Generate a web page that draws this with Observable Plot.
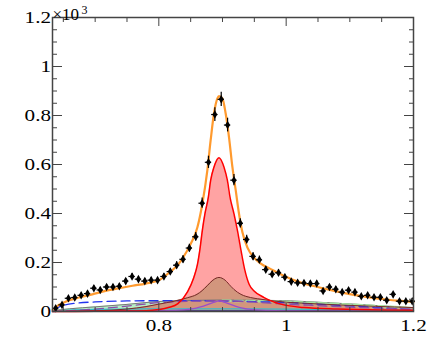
<!DOCTYPE html>
<html><head><meta charset="utf-8">
<script src="https://cdn.jsdelivr.net/npm/d3@7"></script>
<script src="https://cdn.jsdelivr.net/npm/@observablehq/plot@0.6"></script>
<style>html,body{margin:0;padding:0;background:#fff;}</style>
</head><body><div id="chart"></div>
<script>
// ---- data (y values in units of 10^3) ----
const binX = [0.638,0.648,0.658,0.668,0.678,0.688,0.698,0.708,0.718,0.728,0.738,0.748,0.758,0.768,0.778,0.788,0.798,0.808,0.818,0.828,0.838,0.848,0.858,0.868,0.878,0.888,0.898,0.908,0.918,0.928,0.938,0.948,0.958,0.968,0.978,0.988,0.998,1.008,1.018,1.028,1.038,1.048,1.058,1.068,1.078,1.088,1.098,1.108,1.118,1.128,1.138,1.148,1.158,1.168,1.178,1.188,1.198];
const counts = [0.013,0.027,0.054,0.057,0.066,0.073,0.095,0.088,0.100,0.100,0.103,0.124,0.143,0.132,0.124,0.128,0.128,0.143,0.163,0.189,0.213,0.259,0.305,0.442,0.609,0.804,0.866,0.761,0.536,0.360,0.294,0.225,0.211,0.171,0.152,0.158,0.140,0.122,0.117,0.116,0.114,0.114,0.084,0.100,0.091,0.079,0.087,0.079,0.062,0.066,0.058,0.058,0.046,0.070,0.042,0.042,0.042];
const errors = [0.004,0.005,0.007,0.008,0.008,0.009,0.010,0.009,0.010,0.010,0.010,0.011,0.012,0.011,0.011,0.011,0.011,0.012,0.013,0.014,0.015,0.016,0.017,0.021,0.025,0.028,0.029,0.028,0.023,0.019,0.017,0.015,0.015,0.013,0.012,0.013,0.012,0.011,0.011,0.011,0.011,0.011,0.009,0.010,0.010,0.009,0.009,0.009,0.008,0.008,0.008,0.008,0.007,0.008,0.006,0.006,0.006];
const binHalf = 0.005;

const totalX = [0.633,0.643,0.6535,0.6746,0.6956,0.7165,0.7376,0.7586,0.7795,0.8006,0.8164,0.8321,0.8342,0.8499,0.8605,0.8683,0.8762,0.8814,0.8866,0.892,0.8945,0.8998,0.905,0.9102,0.9156,0.9208,0.926,0.9313,0.9392,0.9496,0.9602,0.9759,0.9969,1.0232,1.0494,1.0756,1.1019,1.1282,1.1543,1.1806,1.2];
const totalY = [0.006,0.027,0.040,0.057,0.070,0.084,0.095,0.105,0.114,0.128,0.159,0.197,0.205,0.275,0.343,0.439,0.576,0.699,0.808,0.870,0.879,0.870,0.808,0.712,0.589,0.494,0.398,0.323,0.261,0.220,0.195,0.173,0.145,0.118,0.100,0.084,0.070,0.059,0.050,0.043,0.039];

const kstX = [0.633,0.70,0.75,0.78,0.80,0.815,0.83,0.845,0.855,0.8605,0.8646,0.8683,0.8724,0.8778,0.8814,0.8866,0.8945,0.9024,0.9077,0.9118,0.9181,0.9235,0.9287,0.935,0.942,0.9496,0.9654,0.9917,1.028,1.08,1.15,1.2];
const kstY = [0.0,0.001,0.002,0.003,0.008,0.016,0.032,0.080,0.139,0.190,0.255,0.330,0.398,0.467,0.535,0.589,0.628,0.589,0.535,0.467,0.398,0.330,0.255,0.170,0.110,0.084,0.057,0.030,0.016,0.010,0.006,0.005];

const brownX = [0.633,0.70,0.75,0.78,0.80,0.824,0.845,0.860,0.868,0.876,0.885,0.8945,0.904,0.913,0.918,0.929,0.944,0.955,0.971,1.0,1.034,1.08,1.14,1.2];
const brownY = [0.0,0.003,0.010,0.020,0.030,0.042,0.056,0.070,0.085,0.105,0.128,0.139,0.128,0.103,0.090,0.070,0.057,0.052,0.046,0.038,0.033,0.027,0.021,0.016];

const greenX = [0.633,0.645,0.66,0.70,0.75,0.80,0.85,0.90,0.95,1.0,1.05,1.10,1.15,1.2];
const greenY = [0.003,0.007,0.011,0.019,0.029,0.041,0.045,0.047,0.046,0.044,0.038,0.031,0.023,0.015];

const blueX = [0.633,0.64,0.65,0.67,0.70,0.75,0.80,0.85,0.90,0.95,1.0,1.05,1.10,1.15,1.2];
const blueY = [0.004,0.015,0.025,0.034,0.039,0.043,0.044,0.044,0.043,0.040,0.037,0.030,0.023,0.015,0.008];

const lgreenX = [0.90,0.95,1.0,1.05,1.10,1.15,1.2];
const lgreenY = [0.044,0.042,0.039,0.034,0.028,0.021,0.013];

const purpDX = [0.633,0.70,0.75,0.80,0.85,0.90,0.95,1.0,1.05,1.10,1.15,1.2];
const purpDY = [0.0,0.010,0.022,0.036,0.042,0.044,0.038,0.030,0.024,0.018,0.013,0.009];

const purpX = [0.633,0.80,0.85,0.87,0.885,0.895,0.905,0.92,0.94,1.0,1.2];
const purpY = [0.0,0.003,0.010,0.022,0.036,0.043,0.036,0.022,0.010,0.003,0.0];

const cyanX = [0.633,0.66,0.70,0.80,0.90,1.0,1.1,1.2];
const cyanY = [0.0,0.006,0.009,0.011,0.011,0.010,0.008,0.006];

const navyX = [0.633,0.68,0.9,1.2];
const navyY = [0.0,0.003,0.003,0.003];

const yMajor = [0,0.2,0.4,0.6,0.8,1,1.2];
const yMinor = [0.05,0.1,0.15,0.25,0.3,0.35,0.45,0.5,0.55,0.65,0.7,0.75,0.85,0.9,0.95,1.05,1.1,1.15];
const xMajor = [0.8,1,1.2];
const xMinor = [0.65,0.7,0.75,0.85,0.9,0.95,1.05,1.1,1.15];

// ---- build tables ----
const zip = (xs, ys) => xs.map((x, i) => ({x, y: ys[i]}));
const pts = binX.map((x, i) => ({x, y: counts[i], lo: counts[i]-errors[i], hi: counts[i]+errors[i], xl: x-binHalf, xr: x+binHalf}));
const total = zip(totalX, totalY), kst = zip(kstX, kstY), brown = zip(brownX, brownY),
      green = zip(greenX, greenY), blue = zip(blueX, blueY), lgreen = zip(lgreenX, lgreenY),
      purpD = zip(purpDX, purpDY), purp = zip(purpX, purpY), cyan = zip(cyanX, cyanY), navy = zip(navyX, navyY);

const C = "monotone-x";
const fmt = d => String(d);
const axCol = "#444";
const FF = "Liberation Serif";

const chart = Plot.plot({
  width: 436, height: 354,
  marginLeft: 52, marginRight: 23, marginTop: 17, marginBottom: 43,
  x: {domain: [0.633, 1.2]},
  y: {domain: [0, 1.2]},
  style: "font-family: 'Liberation Serif', serif; font-size: 16px; background: white; color: black; overflow: visible;",
  marks: [
    Plot.areaY(green, {x: "x", y: "y", fill: "#b6f0c6", curve: C}),
    Plot.areaY(kst, {x: "x", y: "y", fill: "#ffa3a3", curve: C}),
    Plot.areaY(brown, {x: "x", y: "y", fill: "#d2967d", curve: C}),
    Plot.line(green, {x: "x", y: "y", stroke: "#777", strokeWidth: 1, curve: C}),
    Plot.line(navy, {x: "x", y: "y", stroke: "#2a2a88", strokeWidth: 1, curve: C}),
    Plot.line(cyan, {x: "x", y: "y", stroke: "#33bbcc", strokeWidth: 1.2, curve: C}),
    Plot.line(lgreen, {x: "x", y: "y", stroke: "#a6e3a0", strokeWidth: 2.5, strokeDasharray: "8,4", curve: C}),
    Plot.line(blue, {x: "x", y: "y", stroke: "#2233ee", strokeWidth: 1.3, strokeDasharray: "9,5", curve: C}),
    Plot.line(purpD, {x: "x", y: "y", stroke: "#8e4aa8", strokeWidth: 1.3, strokeDasharray: "9,5", curve: C}),
    Plot.line(purp, {x: "x", y: "y", stroke: "#9b4dca", strokeWidth: 1.2, curve: C}),
    Plot.line(brown, {x: "x", y: "y", stroke: "#7a2a2a", strokeWidth: 1, curve: C}),
    Plot.line(kst, {x: "x", y: "y", stroke: "#ff0000", strokeWidth: 1.5, curve: C}),
    Plot.line(total, {x: "x", y: "y", stroke: "#ff9a2e", strokeWidth: 2.2, curve: C}),
    Plot.ruleX(pts, {x: "x", y1: "lo", y2: "hi", stroke: "black", strokeWidth: 1.2}),
    Plot.ruleY(pts, {y: "y", x1: "xl", x2: "xr", stroke: "black", strokeWidth: 1.2}),
    Plot.dot(pts, {x: "x", y: "y", symbol: "diamond", r: 2.6, fill: "black", stroke: "none"}),
    Plot.axisY({anchor: "left", ticks: yMajor, tickSize: -10, text: null, stroke: axCol}),
    Plot.axisY({anchor: "left", ticks: yMinor, tickSize: -5, text: null, stroke: axCol}),
    Plot.axisY({anchor: "right", ticks: yMajor, tickSize: -10, text: null, stroke: axCol}),
    Plot.axisY({anchor: "right", ticks: yMinor, tickSize: -5, text: null, stroke: axCol}),
    Plot.axisY({anchor: "left", ticks: yMajor, tickSize: 0, tickPadding: 1.5, tickFormat: fmt, label: null, fontSize: 16, fontFamily: FF, fill: "black"}),
    Plot.axisX({anchor: "bottom", ticks: xMajor, tickSize: -8, text: null, stroke: axCol}),
    Plot.axisX({anchor: "bottom", ticks: xMinor, tickSize: -4, text: null, stroke: axCol}),
    Plot.axisX({anchor: "top", ticks: xMajor, tickSize: -8, text: null, stroke: axCol}),
    Plot.axisX({anchor: "top", ticks: xMinor, tickSize: -4, text: null, stroke: axCol}),
    Plot.axisX({anchor: "bottom", ticks: xMajor, tickSize: 0, tickPadding: 8.5, tickFormat: fmt, label: null, fontSize: 16, fontFamily: FF, fill: "black"}),
    Plot.frame({stroke: axCol, strokeWidth: 1.5}),
    Plot.text(["×10"], {frameAnchor: "top-left", textAnchor: "start", lineAnchor: "bottom", dx: 0, dy: 2.4, fontSize: 17, fontFamily: FF, fill: "black"}),
    Plot.text(["3"], {frameAnchor: "top-left", textAnchor: "start", lineAnchor: "bottom", dx: 29, dy: -4, fontSize: 12, fontFamily: FF, fill: "black"})
  ]
});
// widen the tick labels horizontally like the ROOT rendering (scale about each label's anchor)
const labelSet = new Set([...yMajor, ...xMajor].map(fmt));
d3.select(chart).selectAll("text").each(function () {
  const t = d3.select(this);
  if (labelSet.has(this.textContent.trim())) {
    const tr = t.attr("transform") || "";
    t.attr("transform", tr + " scale(1.32,1)");
  }
});
document.getElementById("chart").appendChild(chart);
</script>
</body></html>
